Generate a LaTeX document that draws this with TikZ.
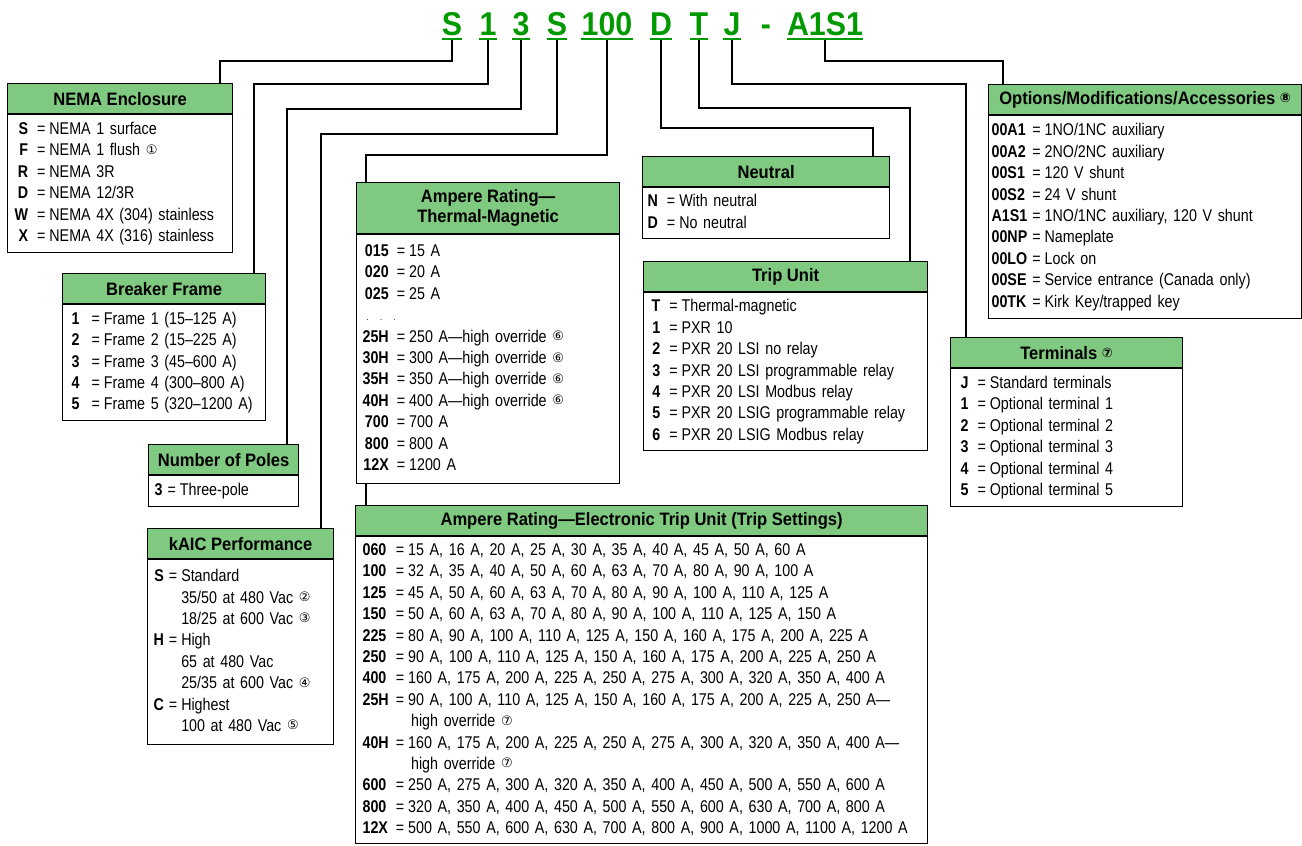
\documentclass[tikz,border=0pt]{standalone}
\usepackage{fontspec}
\setmainfont{Liberation Sans}[FakeStretch=0.84]
\newfontfamily\hfam{Liberation Sans}[FakeStretch=0.92]
\newfontfamily\symfam{DejaVu Sans}
\usetikzlibrary{positioning}
\definecolor{hgreen}{RGB}{128,201,128}
\definecolor{cgreen}{RGB}{0,153,0}
\newcommand\cnum[1]{{\symfam\fontsize{13}{13}\selectfont\raisebox{1.5pt}{#1}}}
\newcommand\bfont{\fontsize{17}{21.4}\selectfont}
\newcommand\legend[3][r]{\noindent\begin{tabular}{@{}#1@{\hspace{#2pt}}l@{\hspace{4pt}}l@{}}#3\end{tabular}}

\begin{document}
\begin{tikzpicture}[x=1pt,y=-1pt,
    code/.style={font=\hfam\fontsize{33}{36}\selectfont\bfseries, text=cgreen, inner sep=0pt, anchor=base},
    uline/.style={cgreen, line width=2pt},
    conn/.style={line width=1.3pt},
    hdr/.style={draw, line width=1.2pt, fill=hgreen, font=\hfam\fontsize{18}{20}\selectfont\bfseries, inner sep=0pt, minimum height=30pt, anchor=north west, align=center},
    body/.style={draw, line width=1.2pt, font=\bfont, anchor=north west, align=left, inner ysep=0pt}]
    \useasboundingbox (0,0) rectangle (1302,846);

    % catalog number
    \node[code] (cS) at (452,35) {S};
    \node[code] (c1) at (488,35) {1};
    \node[code] (c3) at (521,35) {3};
    \node[code] (cK) at (557,35) {S};
    \node[code] (cAmp) at (607,35) {100};
    \node[code] (cN) at (661,35) {D};
    \node[code] (cT) at (699,35) {T};
    \node[code] (cJ) at (732,35) {J};
    \node[code] (cDash) at (766,35) {-};
    \node[code] (cOpt) at (825,35) {A1S1};
    \foreach \c in {cS,c1,c3,cK,cAmp,cN,cT,cJ,cOpt}
        \draw[uline] ([yshift=-3.3pt]\c.south west) -- ([yshift=-3.3pt]\c.south east);

    % bends of the leaders
    \coordinate (kNema) at (220,61);
    \coordinate (kFrame) at (254,84);
    \coordinate (kPoles) at (287,109);
    \coordinate (kKaic) at (321,134);
    \coordinate (kAmp) at (366,155);
    \coordinate (kNeut) at (873,128);
    \coordinate (kTrip) at (910,108);
    \coordinate (kTerm) at (966,84);
    \coordinate (kOpt) at (1003,61);

    % boxes
    \node[hdr, minimum width=225pt] (hNema) at (7,83) {NEMA Enclosure};
    \node[body, text width=211pt, inner xsep=7pt, minimum height=138pt] (bNema) at (hNema.south west) {\legend{9}{
        \textbf{S} & = & NEMA 1 surface\\
        \textbf{F} & = & NEMA 1 flush \cnum{①}\\
        \textbf{R} & = & NEMA 3R\\
        \textbf{D} & = & NEMA 12/3R\\
        \textbf{W} & = & NEMA 4X (304) stainless\\
        \textbf{X} & = & NEMA 4X (316) stainless}};

    \node[hdr, minimum width=203pt] (hFrame) at (62,273) {Breaker Frame};
    \node[body, text width=185pt, inner xsep=9pt, minimum height=116pt] (bFrame) at (hFrame.south west) {\legend{12}{
        \textbf{1} & = & Frame 1 (15–125 A)\\
        \textbf{2} & = & Frame 2 (15–225 A)\\
        \textbf{3} & = & Frame 3 (45–600 A)\\
        \textbf{4} & = & Frame 4 (300–800 A)\\
        \textbf{5} & = & Frame 5 (320–1200 A)}};

    \node[hdr, minimum width=150pt] (hPoles) at (148,444) {Number of Poles};
    \node[body, text width=138pt, inner xsep=6pt, minimum height=31pt] (bPoles) at (hPoles.south west) {\legend{5}{
        \textbf{3} & = & Three-pole}};

    \node[hdr, minimum width=186pt] (hKaic) at (147,528) {kAIC Performance};
    \node[body, text width=174pt, inner xsep=6pt, minimum height=185pt] (bKaic) at (hKaic.south west) {\legend{5}{
        \textbf{S} & = & Standard\\
         & & 35/50 at 480 Vac \cnum{②}\\
         & & 18/25 at 600 Vac \cnum{③}\\
        \textbf{H} & = & High\\
         & & 65 at 480 Vac\\
         & & 25/35 at 600 Vac \cnum{④}\\
        \textbf{C} & = & Highest\\
         & & 100 at 480 Vac \cnum{⑤}}};

    \node[hdr, minimum width=263pt, minimum height=51pt] (hAmp) at (356,182) {Ampere Rating—\\Thermal-Magnetic};
    \node[body, text width=251pt, inner xsep=6pt, minimum height=249pt] (bAmp) at (hAmp.south west) {\legend{8}{
        \textbf{015} & = & 15 A\\
        \textbf{020} & = & 20 A\\
        \textbf{025} & = & 25 A\\
        \multicolumn{3}{@{}l@{}}{\hspace{4pt}{\small .\ \ .\ \ .}}\\
        \textbf{25H} & = & 250 A—high override \cnum{⑥}\\
        \textbf{30H} & = & 300 A—high override \cnum{⑥}\\
        \textbf{35H} & = & 350 A—high override \cnum{⑥}\\
        \textbf{40H} & = & 400 A—high override \cnum{⑥}\\
        \textbf{700} & = & 700 A\\
        \textbf{800} & = & 800 A\\
        \textbf{12X} & = & 1200 A}};

    \node[hdr, minimum width=247pt] (hNeut) at (642,156) {Neutral};
    \node[body, text width=237pt, inner xsep=5pt, minimum height=51pt] (bNeut) at (hNeut.south west) {\legend{9}{
        \textbf{N} & = & With neutral\\
        \textbf{D} & = & No neutral}};

    \node[hdr, minimum width=284pt] (hTrip) at (643,261) {Trip Unit};
    \node[body, text width=268pt, inner xsep=8pt, minimum height=158pt] (bTrip) at (hTrip.south west) {\legend{9}{
        \textbf{T} & = & Thermal-magnetic\\
        \textbf{1} & = & PXR 10\\
        \textbf{2} & = & PXR 20 LSI no relay\\
        \textbf{3} & = & PXR 20 LSI programmable relay\\
        \textbf{4} & = & PXR 20 LSI Modbus relay\\
        \textbf{5} & = & PXR 20 LSIG programmable relay\\
        \textbf{6} & = & PXR 20 LSIG Modbus relay}};

    \node[hdr, minimum width=313pt] (hOpt) at (988,84) {Options/Modifications/Accessories \cnum{⑧}};
    \node[body, text width=307pt, inner xsep=3pt, minimum height=203pt] (bOpt) at (hOpt.south west) {\legend[l]{5}{
        \textbf{00A1} & = & 1NO/1NC auxiliary\\
        \textbf{00A2} & = & 2NO/2NC auxiliary\\
        \textbf{00S1} & = & 120 V shunt\\
        \textbf{00S2} & = & 24 V shunt\\
        \textbf{A1S1} & = & 1NO/1NC auxiliary, 120 V shunt\\
        \textbf{00NP} & = & Nameplate\\
        \textbf{00LO} & = & Lock on\\
        \textbf{00SE} & = & Service entrance (Canada only)\\
        \textbf{00TK} & = & Kirk Key/trapped key}};

    \node[hdr, minimum width=232pt] (hTerm) at (950,337) {Terminals \cnum{⑦}};
    \node[body, text width=212pt, inner xsep=10pt, minimum height=138pt] (bTerm) at (hTerm.south west) {\legend{9}{
        \textbf{J} & = & Standard terminals\\
        \textbf{1} & = & Optional terminal 1\\
        \textbf{2} & = & Optional terminal 2\\
        \textbf{3} & = & Optional terminal 3\\
        \textbf{4} & = & Optional terminal 4\\
        \textbf{5} & = & Optional terminal 5}};

    \node[hdr, minimum width=572pt] (hElec) at (355,505) {Ampere Rating—Electronic Trip Unit (Trip Settings)};
    \node[body, text width=558pt, inner xsep=7pt, minimum height=307pt] (bElec) at (hElec.south west) {\legend[l]{7}{
        \textbf{060} & = & 15 A, 16 A, 20 A, 25 A, 30 A, 35 A, 40 A, 45 A, 50 A, 60 A\\
        \textbf{100} & = & 32 A, 35 A, 40 A, 50 A, 60 A, 63 A, 70 A, 80 A, 90 A, 100 A\\
        \textbf{125} & = & 45 A, 50 A, 60 A, 63 A, 70 A, 80 A, 90 A, 100 A, 110 A, 125 A\\
        \textbf{150} & = & 50 A, 60 A, 63 A, 70 A, 80 A, 90 A, 100 A, 110 A, 125 A, 150 A\\
        \textbf{225} & = & 80 A, 90 A, 100 A, 110 A, 125 A, 150 A, 160 A, 175 A, 200 A, 225 A\\
        \textbf{250} & = & 90 A, 100 A, 110 A, 125 A, 150 A, 160 A, 175 A, 200 A, 225 A, 250 A\\
        \textbf{400} & = & 160 A, 175 A, 200 A, 225 A, 250 A, 275 A, 300 A, 320 A, 350 A, 400 A\\
        \textbf{25H} & = & 90 A, 100 A, 110 A, 125 A, 150 A, 160 A, 175 A, 200 A, 225 A, 250 A—\\
         & & \hspace{3pt}high override \cnum{⑦}\\
        \textbf{40H} & = & 160 A, 175 A, 200 A, 225 A, 250 A, 275 A, 300 A, 320 A, 350 A, 400 A—\\
         & & \hspace{3pt}high override \cnum{⑦}\\
        \textbf{600} & = & 250 A, 275 A, 300 A, 320 A, 350 A, 400 A, 450 A, 500 A, 550 A, 600 A\\
        \textbf{800} & = & 320 A, 350 A, 400 A, 450 A, 500 A, 550 A, 600 A, 630 A, 700 A, 800 A\\
        \textbf{12X} & = & 500 A, 550 A, 600 A, 630 A, 700 A, 800 A, 900 A, 1000 A, 1100 A, 1200 A}};

    % leaders
    \draw[conn] ([yshift=-4.5pt]cS.south) |- (kNema) -- (kNema |- hNema.north);
    \draw[conn] ([yshift=-4.5pt]c1.south) |- (kFrame) -- (kFrame |- hFrame.north);
    \draw[conn] ([yshift=-4.5pt]c3.south) |- (kPoles) -- (kPoles |- hPoles.north);
    \draw[conn] ([yshift=-4.5pt]cK.south) |- (kKaic) -- (kKaic |- hKaic.north);
    \draw[conn] ([yshift=-4.5pt]cAmp.south) |- (kAmp) -- (kAmp |- hAmp.north);
    \draw[conn] (kAmp |- bAmp.south) -- (kAmp |- hElec.north);
    \draw[conn] ([yshift=-4.5pt]cN.south) |- (kNeut) -- (kNeut |- hNeut.north);
    \draw[conn] ([yshift=-4.5pt]cT.south) |- (kTrip) -- (kTrip |- hTrip.north);
    \draw[conn] ([yshift=-4.5pt]cJ.south) |- (kTerm) -- (kTerm |- hTerm.north);
    \draw[conn] ([yshift=-4.5pt]cOpt.south) |- (kOpt) -- (kOpt |- hOpt.north);
\end{tikzpicture}
\end{document}
